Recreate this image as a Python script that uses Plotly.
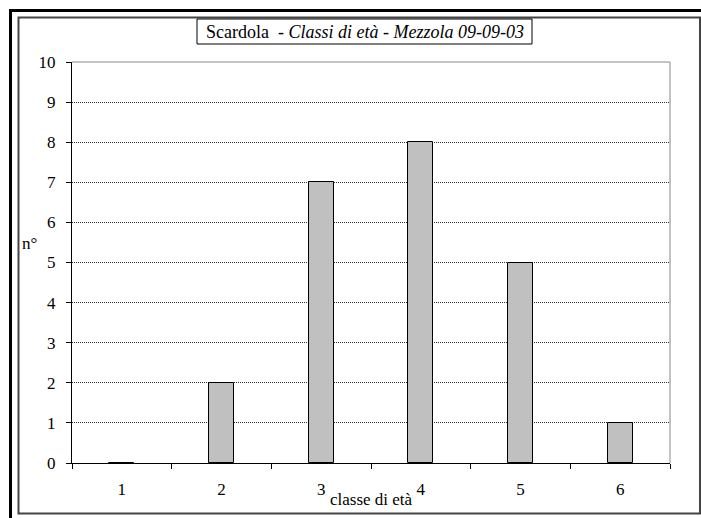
import plotly.graph_objects as go

classes = ["1", "2", "3", "4", "5", "6"]
counts = [0, 2, 7, 8, 5, 1]
y_ticks = list(range(0, 11))

W, H = 701, 518
L, R, T, B = 72, 670, 62, 463  # plot area pixel edges

def px(x):
    return (x - L) / (R - L)

def py(y):
    return (B - y) / (B - T)

FONT = "Liberation Serif, Times New Roman, serif"

fig = go.Figure()
fig.add_trace(go.Bar(
    x=classes, y=counts, width=0.25,
    marker=dict(color="#c0c0c0", line=dict(color="black", width=1)),
))

shapes = [
    # outer thick black frame (top and left)
    dict(type="line", xref="paper", yref="paper", x0=px(9), x1=px(701), y0=py(10.5), y1=py(10.5),
         line=dict(color="black", width=3)),
    dict(type="line", xref="paper", yref="paper", x0=px(10.5), x1=px(10.5), y0=py(9), y1=py(518),
         line=dict(color="black", width=3)),
    # inner gray frame
    dict(type="rect", xref="paper", yref="paper", x0=px(18.5), x1=px(700), y0=py(17.5), y1=py(513.5),
         line=dict(color="#444444", width=2)),
    # plot area top/right border
    dict(type="line", xref="paper", yref="paper", x0=0, x1=1, y0=1, y1=1,
         line=dict(color="#888888", width=1), layer="above"),
    dict(type="line", xref="paper", yref="paper", x0=1, x1=1, y0=0, y1=1,
         line=dict(color="#888888", width=1), layer="above"),
    # title box
    dict(type="rect", xref="paper", yref="paper", x0=px(197), x1=px(532), y0=py(19), y1=py(44),
         line=dict(color="black", width=1), fillcolor="white"),
]

annotations = [
    dict(text="Scardola\u00a0 - <i>Classi di età - Mezzola 09-09-03</i>", xref="paper", yref="paper",
         x=px(364.5), y=py(31.5), xanchor="center", yanchor="middle", showarrow=False,
         font=dict(family=FONT, size=18, color="black")),
    dict(text="classe di età", xref="paper", yref="paper", x=px(371), y=py(499),
         xanchor="center", yanchor="middle", showarrow=False,
         font=dict(family=FONT, size=17, color="black")),
    dict(text="n°", xref="paper", yref="paper", x=px(29), y=py(243),
         xanchor="center", yanchor="middle", showarrow=False,
         font=dict(family=FONT, size=17, color="black")),
]

fig.update_layout(
    width=W, height=H,
    margin=dict(l=L, r=W - R, t=T, b=H - B, pad=0),
    paper_bgcolor="white", plot_bgcolor="white",
    showlegend=False, bargap=0,
    font=dict(family=FONT, size=17, color="black"),
    shapes=shapes, annotations=annotations,
    xaxis=dict(type="category", tickson="boundaries", ticks="outside", ticklen=5,
               tickcolor="black", showline=True, linecolor="black", linewidth=1,
               showgrid=False, zeroline=False, ticklabelstandoff=11,
               tickfont=dict(family=FONT, size=17, color="black")),
    yaxis=dict(range=[0, 10], tickvals=y_ticks, ticks="outside", ticklen=5,
               tickcolor="black", showline=True, linecolor="black", linewidth=1,
               showgrid=True, gridcolor="#333333", griddash="1px,1px", gridwidth=1,
               zeroline=False, ticklabelstandoff=7,
               tickfont=dict(family=FONT, size=17, color="black")),
)

fig.write_html("out.html")
